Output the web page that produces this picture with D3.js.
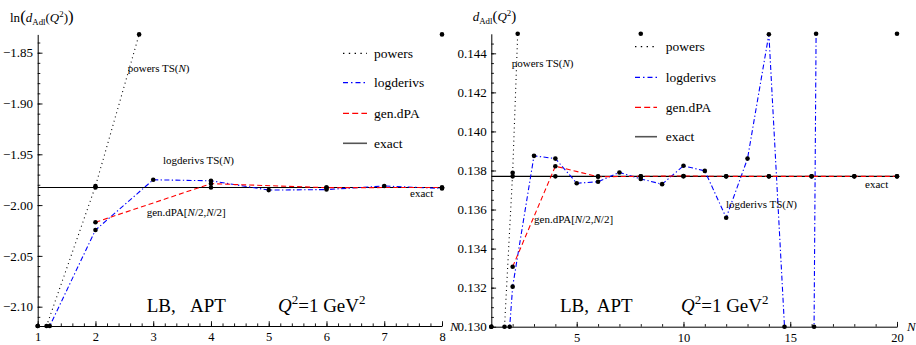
<!DOCTYPE html>
<html>
<head>
<meta charset="utf-8">
<script src="https://cdn.jsdelivr.net/npm/d3@7/dist/d3.min.js"></script>
<style>
  html, body { margin: 0; padding: 0; background: #fff; }
  svg { display: block; }
</style>
</head>
<body>
<svg id="chart" width="916" height="345"></svg>
<script>
// Truncated-series approximants of d_Adl(Q^2) at Q^2 = 1 GeV^2 (LB, APT)
const powersN = [1, 2, 3, 4, 5, 6, 7, 8];
const powersTS = [0.1172, 0.13788, 0.168, 0.26, 0.52, 1.15, 2.7, 6.6];

const logderivsN = [1, 2, 3, 4, 5, 6, 7, 8, 9, 10, 11, 12, 13, 14, 15, 16, 17, 18, 19, 20];
const logderivsTS = [0.1172, 0.13205, 0.13875, 0.13861, 0.13735, 0.13742, 0.1379, 0.13757,
                     0.1373, 0.13824, 0.13798, 0.13558, 0.13861, 0.14498, 0.1245, 0.1116,
                     0.27, 0.38, 0.55, 0.8];

const genDPAN = [2, 4, 6, 8, 10, 12, 14, 16, 18, 20];
const genDPA = [0.13307, 0.13822, 0.13768, 0.1377, 0.13772, 0.1377, 0.1377, 0.1377, 0.1377, 0.1377];

const exactN = [2, 4, 6, 8, 10, 12, 14, 16, 18, 20];
const exactValue = 0.1377;

const leftXTicks = [1, 2, 3, 4, 5, 6, 7, 8];
const leftYTicks = [-2.10, -2.05, -2.00, -1.95, -1.90, -1.85];
const rightXTicks = [5, 10, 15, 20];
const rightYTicks = [0.130, 0.132, 0.134, 0.136, 0.138, 0.140, 0.142, 0.144];

const legendLabels = ["powers", "logderivs", "gen.dPA", "exact"];

const SERIF = "'Liberation Serif', 'DejaVu Serif', serif";
const svg = d3.select("#chart");

const styles = {
  powers:    { color: "#000", dash: "1,3.4", legendDash: "1.4,4.4", width: 1.1 },
  logderivs: { color: "#0000ff", dash: "5,2.4,1.3,2.4", legendDash: "5,3,1.5,3", width: 1.1 },
  genDPA:    { color: "#ff0000", dash: "5,3", legendDash: "6,3.2", width: 1.1 },
  exact:     { color: "#000", dash: null, legendDash: null, width: 1.2 }
};

// text with italic / sub / superscript pieces
function rich(sel, x, y, size, parts, anchor) {
  const t = sel.append("text")
    .attr("x", x).attr("y", y)
    .attr("font-size", size)
    .attr("font-family", SERIF)
    .attr("fill", "#000")
    .attr("text-anchor", anchor || "start");
  let shift = 0;
  parts.forEach(p => {
    const target = p.sup ? -0.4 * size : p.sub ? 0.22 * size : 0;
    const ts = t.append("tspan").text(p.t).attr("dy", target - shift);
    shift = target;
    if (p.sup || p.sub) ts.attr("font-size", size * 0.68);
    if (p.big) ts.attr("font-size", size * p.big);
    if (p.it) ts.attr("font-style", "italic");
  });
  return t;
}

// visible polyline vertices: in-range points, boundary crossings, clamped end points
function markerPoints(pts, lo, hi) {
  const out = [];
  const inside = p => p.y >= lo && p.y <= hi;
  pts.forEach((p, i) => {
    if (i > 0) {
      const a = pts[i - 1];
      [lo, hi].forEach(b => {
        if ((a.y - b) * (p.y - b) < 0) {
          const t = (b - a.y) / (p.y - a.y);
          out.push({ x: a.x + t * (p.x - a.x), y: b });
        }
      });
    }
    if (inside(p)) out.push(p);
  });
  [pts[0], pts[pts.length - 1]].forEach(p => {
    if (!inside(p)) out.push({ x: p.x, y: Math.max(lo, Math.min(hi, p.y)) });
  });
  return out;
}

function drawPanel(cfg) {
  const g = svg.append("g");
  const x = d3.scaleLinear().domain(cfg.xDomain).range(cfg.xRange);
  const y = d3.scaleLinear().domain(cfg.yDomain).range(cfg.yRange);
  const f = cfg.transform;

  // axes (ticks pointing inward)
  const xAxisY = cfg.yRange[0];
  const yAxisX = cfg.xRange[0];

  g.append("g").attr("transform", `translate(0,${xAxisY})`)
    .call(d3.axisBottom(x).tickValues(cfg.xMinor).tickSize(-2.6).tickSizeOuter(0).tickFormat(""))
    .call(s => s.select(".domain").remove());
  g.append("g").attr("transform", `translate(0,${xAxisY})`)
    .call(d3.axisBottom(x).tickValues(cfg.xTicks).tickSize(-4.8).tickSizeOuter(0).tickPadding(6.3).tickFormat(d3.format("d")))
    .call(s => s.selectAll("text").attr("font-size", 12.5).attr("font-family", SERIF).attr("fill", "#000"));

  g.append("g").attr("transform", `translate(${yAxisX},0)`)
    .call(d3.axisLeft(y).tickValues(cfg.yMinor).tickSize(-2.6).tickSizeOuter(0).tickFormat(""))
    .call(s => s.select(".domain").remove());
  g.append("g").attr("transform", `translate(${yAxisX},0)`)
    .call(d3.axisLeft(y).tickValues(cfg.yTicks).tickSize(-4.8).tickSizeOuter(0).tickPadding(4.6).tickFormat(d3.format(cfg.yFormat)))
    .call(s => s.selectAll("text").attr("font-size", 13).attr("font-family", SERIF).attr("fill", "#000"));

  g.selectAll(".domain").attr("stroke", "#000").attr("stroke-width", 1);
  g.selectAll(".tick line").attr("stroke", "#000").attr("stroke-width", 0.9);

  // plot-area clip for the curves
  const clipId = "clip-" + cfg.id;
  svg.append("clipPath").attr("id", clipId).append("rect")
    .attr("x", cfg.xRange[0]).attr("y", cfg.yRange[1])
    .attr("width", cfg.xRange[1] - cfg.xRange[0])
    .attr("height", cfg.yRange[0] - cfg.yRange[1]);

  const inX = n => n >= cfg.xDomain[0] && n <= cfg.xDomain[1];
  const mk = (ns, vs) => ns.map((n, i) => ({ x: n, y: f(vs[i]) })).filter(p => inX(p.x));

  const series = [
    { key: "exact", pts: mk(exactN, exactN.map(() => exactValue)),
      linePts: [{ x: cfg.xDomain[0], y: f(exactValue) }, { x: cfg.xDomain[1], y: f(exactValue) }] },
    { key: "powers", pts: mk(powersN, powersTS) },
    { key: "logderivs", pts: mk(logderivsN, logderivsTS) },
    { key: "genDPA", pts: mk(genDPAN, genDPA) }
  ];

  const line = d3.line().x(d => x(d.x)).y(d => y(d.y));
  const curves = g.append("g").attr("clip-path", `url(#${clipId})`);
  series.forEach(s => {
    const st = styles[s.key];
    curves.append("path")
      .attr("d", line(s.linePts || s.pts))
      .attr("fill", "none")
      .attr("stroke", st.color)
      .attr("stroke-width", st.width)
      .attr("stroke-dasharray", st.dash);
  });

  const lo = cfg.yDomain[0], hi = cfg.yDomain[1];
  const dots = g.append("g");
  series.forEach(s => {
    dots.selectAll(null).data(markerPoints(s.pts, lo, hi)).join("circle")
      .attr("cx", d => x(d.x)).attr("cy", d => y(d.y))
      .attr("r", 2.3).attr("fill", "#000");
  });

  // legend
  const lg = g.append("g");
  const keys = ["powers", "logderivs", "genDPA", "exact"];
  keys.forEach((k, i) => {
    const st = styles[k];
    const yy = cfg.legend.rows[i];
    lg.append("line")
      .attr("x1", cfg.legend.x0).attr("x2", cfg.legend.x1)
      .attr("y1", yy).attr("y2", yy)
      .attr("stroke", k === "exact" ? "#555" : st.color)
      .attr("stroke-width", k === "exact" ? 1.6 : 1.2)
      .attr("stroke-dasharray", st.legendDash);
    lg.append("text")
      .attr("x", cfg.legend.tx).attr("y", yy + 4.5)
      .attr("font-size", 13.5).attr("font-family", SERIF).attr("fill", "#000")
      .text(legendLabels[i]);
  });

  // axis titles
  rich(g, cfg.yLabel.x, cfg.yLabel.y, 13, cfg.yLabel.parts);
  rich(g, cfg.nLabel.x, cfg.nLabel.y, 13, [{ t: "N", it: true }]);

  // curve annotations
  const ann = cfg.annotations;
  rich(g, ann.powers[0], ann.powers[1], 11, [{ t: "powers TS(" }, { t: "N", it: true }, { t: ")" }]);
  rich(g, ann.logderivs[0], ann.logderivs[1], 11, [{ t: "logderivs TS(" }, { t: "N", it: true }, { t: ")" }]);
  rich(g, ann.genDPA[0], ann.genDPA[1], 11, [{ t: "gen.dPA[" }, { t: "N", it: true }, { t: "/2," }, { t: "N", it: true }, { t: "/2]" }]);
  rich(g, ann.exact[0], ann.exact[1], 11, [{ t: "exact" }]);

  // scheme caption
  const cap = cfg.caption;
  rich(g, cap.lb, cap.y, 19, [{ t: "LB," }]);
  rich(g, cap.apt, cap.y, 19, [{ t: "APT" }]);
  rich(g, cap.q, cap.y, 19, [{ t: "Q", it: true }, { t: "2", sup: true }, { t: "=1 GeV" }, { t: "2", sup: true }]);
}

drawPanel({
  id: "log",
  transform: Math.log,
  xDomain: [1, 8], xRange: [37.7, 442],
  yDomain: [-2.119, -1.832], yRange: [326, 34.4],
  xTicks: leftXTicks, xMinor: d3.range(1, 8.001, 0.2),
  yTicks: leftYTicks, yMinor: d3.range(-2.11, -1.835, 0.01),
  yFormat: ".2f",
  legend: { x0: 343, x1: 367, tx: 374, rows: [53.3, 82.7, 113.3, 143.3] },
  yLabel: { x: 10, y: 22, parts: [{ t: "ln" }, { t: "(", big: 1.3 }, { t: "d", it: true }, { t: "Adl", sub: true }, { t: "(" }, { t: "Q", it: true }, { t: "2", sup: true }, { t: ")" }, { t: ")", big: 1.3 }] },
  nLabel: { x: 450, y: 331 },
  annotations: { powers: [127.7, 72], logderivs: [163, 164], genDPA: [146.7, 215.5], exact: [410, 197] },
  caption: { lb: 146.7, apt: 190, q: 278, y: 311.7 }
});

drawPanel({
  id: "lin",
  transform: v => v,
  xDomain: [1, 20], xRange: [491.3, 897],
  yDomain: [0.130, 0.145], yRange: [326.7, 33.8],
  xTicks: rightXTicks, xMinor: d3.range(1, 20.001, 1),
  yTicks: rightYTicks, yMinor: d3.range(0.1305, 0.1448, 0.0005),
  yFormat: ".3f",
  legend: { x0: 635, x1: 657, tx: 665.7, rows: [46.7, 77.3, 107.3, 136.7] },
  yLabel: { x: 472.7, y: 21, parts: [{ t: "d", it: true }, { t: "Adl", sub: true }, { t: "(", big: 1.15 }, { t: "Q", it: true }, { t: "2", sup: true }, { t: ")", big: 1.15 }] },
  nLabel: { x: 907, y: 330.5 },
  annotations: { powers: [511.7, 67], logderivs: [726, 208], genDPA: [534, 223], exact: [865, 188] },
  caption: { lb: 560, apt: 596.7, q: 681, y: 311.7 }
});
</script>
</body>
</html>
